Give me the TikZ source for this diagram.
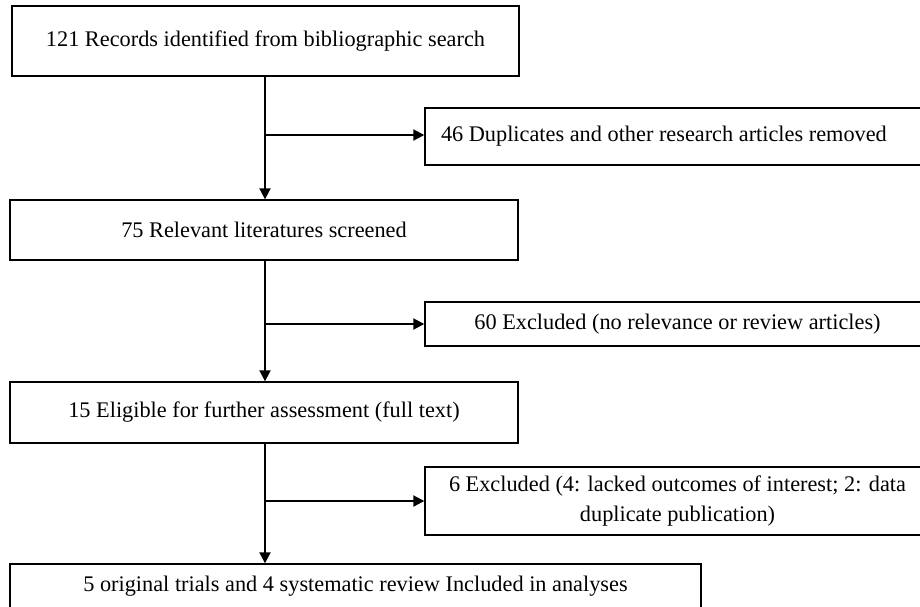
\documentclass[tikz,border=0pt]{standalone}
\usepackage{fontspec}
\setmainfont{Liberation Serif}
\usetikzlibrary{positioning, arrows.meta}

\begin{document}
\begin{tikzpicture}[
  x=1pt, y=-1pt,
  >={Triangle[length=11pt, width=11pt]},
  font=\fontsize{22.3}{30}\selectfont,
  %% Node styles
  stage/.style={
    draw, line width=1.4pt, inner sep=0pt, align=center
  },
  side/.style={
    draw, line width=1.4pt, inner xsep=16pt, inner ysep=0pt,
    minimum width=505pt, text width=473pt
  },
  sideleft/.style={side, align=flush left},
  sidemid/.style={side, align=flush center},
  %% Connectors
  flow/.style={->, line width=2pt},
]

\useasboundingbox (0,0) rectangle (920,606);
\clip (0,0) rectangle (920,606);

%% ── MAIN COLUMN ───────────────────────────────────────────────────────────
\node[stage, minimum width=507pt, minimum height=70pt] (rec)  at (265.5, 41)
  {121 Records identified from bibliographic search};
\node[stage, minimum width=508pt, minimum height=60pt] (scr)  at (264, 230)
  {75 Relevant literatures screened};
\node[stage, minimum width=508pt, minimum height=61pt] (elig) at (264, 412.5)
  {15 Eligible for further assessment (full text)};
\node[stage, minimum width=691pt, minimum height=44pt] (incl) at (355.5, 586)
  {5 original trials and 4 systematic review Included in analyses};

%% ── EXCLUSIONS ────────────────────────────────────────────────────────────
\node[sideleft, minimum height=57pt] (dup)  at (677.5, 136.5)
  {46 Duplicates and other research articles removed};
\node[sidemid, minimum height=44pt]  (exa)  at (677.5, 324)
  {60 Excluded (no relevance or review articles)};
\node[sidemid, minimum height=68pt]  (exb)  at (677.5, 501)
  {6 Excluded (4: lacked outcomes of interest; 2: data\\ duplicate publication)};

%% Branch points on the main line
\coordinate (b1) at (265, 135);
\coordinate (b2) at (265, 324);
\coordinate (b3) at (265, 501);

%% Main flow
\draw[flow] (rec.south -| b1) -- (scr.north -| b1);
\draw[flow] (scr.south -| b2) -- (elig.north -| b2);
\draw[flow] (elig.south -| b3) -- (incl.north -| b3);

%% Side branches
\draw[flow] (b1) -- (b1 -| dup.west);
\draw[flow] (b2) -- (exa.west);
\draw[flow] (b3) -- (exb.west);

\end{tikzpicture}
\end{document}
